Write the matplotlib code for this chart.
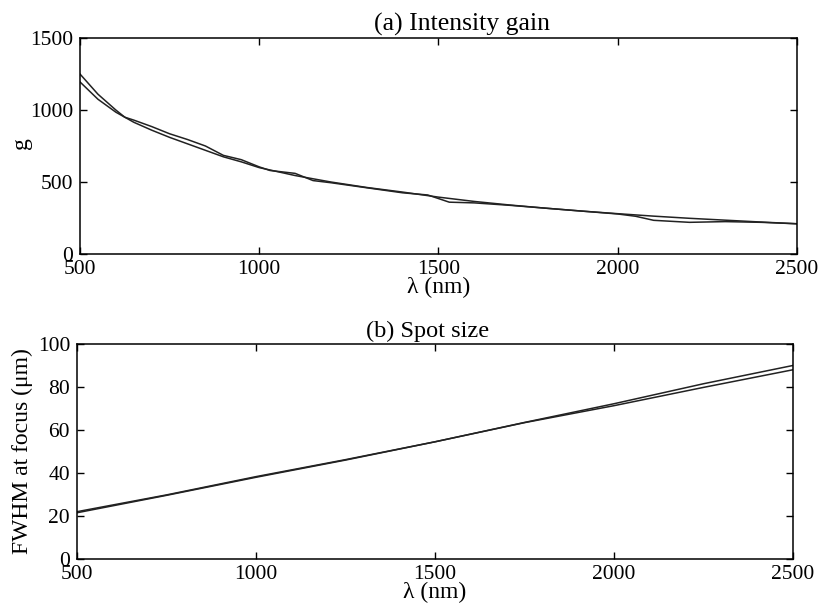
import matplotlib
matplotlib.use("Agg")
import matplotlib.pyplot as plt

plt.rcParams['font.family'] = ['Liberation Serif', 'DejaVu Serif']
plt.rcParams['mathtext.fontset'] = 'stix'

# (a) Intensity gain
lam_a1 = [500, 550, 600, 650, 700, 750, 800, 850, 900, 950, 1000, 1100, 1200, 1300,
          1400, 1500, 1600, 1700, 1800, 1900, 2000, 2100, 2200, 2300, 2400, 2500]
g_a1 = [1195, 1075, 985, 915, 860, 810, 765, 720, 675, 640, 600, 545, 500, 462,
        430, 395, 365, 340, 318, 298, 280, 263, 248, 235, 222, 210]
lam_a2 = [500, 550, 600, 625, 650, 700, 750, 800, 850, 900, 950, 1000, 1030, 1100,
          1150, 1200, 1300, 1400, 1470, 1530, 1600, 1700, 1800, 1900, 2000, 2050,
          2100, 2200, 2300, 2400, 2500]
g_a2 = [1250, 1110, 1000, 950, 930, 885, 835, 795, 750, 685, 655, 605, 580, 560,
        510, 495, 460, 425, 410, 360, 355, 338, 318, 298, 278, 262, 234, 220, 225,
        220, 210]

# (b) Spot size
lam_b = [500, 750, 1000, 1250, 1500, 1750, 2000, 2250, 2500]
fwhm_b1 = [21.5, 29.6, 38.0, 46.0, 54.5, 63.5, 72.2, 81.5, 90.0]
fwhm_b2 = [22.0, 29.8, 38.3, 46.2, 54.5, 63.4, 71.3, 79.8, 88.0]

xticks = [500, 1000, 1500, 2000, 2500]
yticks_a = [0, 500, 1000, 1500]
yticks_b = [0, 20, 40, 60, 80, 100]

fig = plt.figure(figsize=(8.22, 6.14), dpi=100)
ax1 = fig.add_axes([0.0973, 0.5863, 0.8723, 0.3518])
ax2 = fig.add_axes([0.0937, 0.0896, 0.8710, 0.3502])

lc = '#222222'
ax1.plot(lam_a1, g_a1, color=lc, lw=1.1)
ax1.plot(lam_a2, g_a2, color=lc, lw=1.1)
ax2.plot(lam_b, fwhm_b1, color=lc, lw=1.1)
ax2.plot(lam_b, fwhm_b2, color=lc, lw=1.1)

tfs = 15.5
lfs = 17
hfs = 18.5
for ax, yt, ylab in [(ax1, yticks_a, 'g'),
                     (ax2, yticks_b, 'FWHM at focus (μm)')]:
    ax.set_xlim(500, 2500)
    ax.set_ylim(yt[0], yt[-1])
    ax.set_xticks(xticks)
    ax.set_yticks(yt)
    ax.tick_params(direction='in', length=5, width=1, top=True, right=True,
                   labelsize=tfs)
    ax.tick_params(axis='x', pad=4)
    ax.tick_params(axis='y', pad=5)
    ax.set_xlabel('λ (nm)', fontsize=lfs, labelpad=-1)
    ax.set_ylabel(ylab, fontsize=lfs)
    for s in ax.spines.values():
        s.set_linewidth(1.1)

ax1.set_title('(a) Intensity gain', fontsize=hfs, pad=5, x=0.533)
ax2.set_title('(b) Spot size', fontsize=hfs - 1, pad=5, x=0.49)
ax1.yaxis.set_label_coords(-0.067, 0.514)
ax2.yaxis.set_label_coords(-0.061, 0.5)

fig.savefig('out.png', dpi=100)
